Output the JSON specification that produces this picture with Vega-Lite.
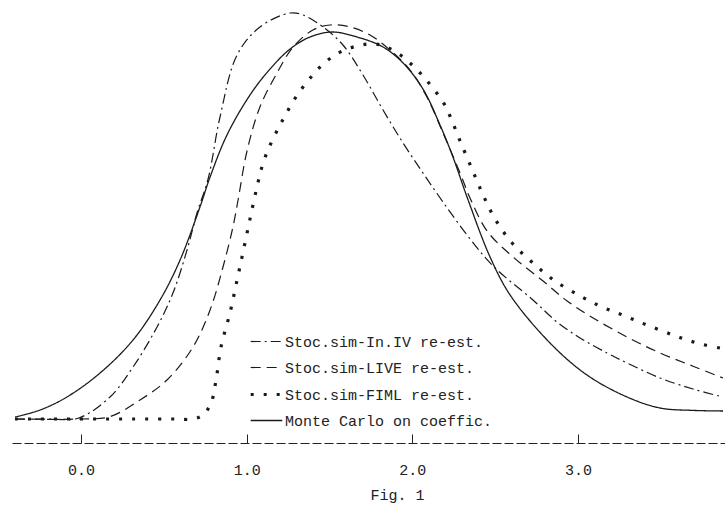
{
  "$schema": "https://vega.github.io/schema/vega-lite/v6.json",
  "autosize": {"type": "none"},
  "width": 713,
  "height": 443,
  "padding": {"left": 12, "top": 0, "right": 0, "bottom": 62},
  "background": "white",
  "config": {
    "view": {"stroke": null},
    "font": "Liberation Mono"
  },
  "data": {
    "values": [
      {"s": "Monte Carlo on coeffic.", "x": -0.398, "y": 0.005},
      {"s": "Monte Carlo on coeffic.", "x": -0.247, "y": 0.0225},
      {"s": "Monte Carlo on coeffic.", "x": -0.085, "y": 0.055},
      {"s": "Monte Carlo on coeffic.", "x": 0.115, "y": 0.115},
      {"s": "Monte Carlo on coeffic.", "x": 0.314, "y": 0.1975},
      {"s": "Monte Carlo on coeffic.", "x": 0.477, "y": 0.2975},
      {"s": "Monte Carlo on coeffic.", "x": 0.598, "y": 0.3975},
      {"s": "Monte Carlo on coeffic.", "x": 0.718, "y": 0.53},
      {"s": "Monte Carlo on coeffic.", "x": 0.779, "y": 0.605},
      {"s": "Monte Carlo on coeffic.", "x": 0.881, "y": 0.71},
      {"s": "Monte Carlo on coeffic.", "x": 1.02, "y": 0.81},
      {"s": "Monte Carlo on coeffic.", "x": 1.141, "y": 0.875},
      {"s": "Monte Carlo on coeffic.", "x": 1.262, "y": 0.925},
      {"s": "Monte Carlo on coeffic.", "x": 1.382, "y": 0.955},
      {"s": "Monte Carlo on coeffic.", "x": 1.515, "y": 0.9675},
      {"s": "Monte Carlo on coeffic.", "x": 1.666, "y": 0.955},
      {"s": "Monte Carlo on coeffic.", "x": 1.823, "y": 0.93},
      {"s": "Monte Carlo on coeffic.", "x": 1.944, "y": 0.89},
      {"s": "Monte Carlo on coeffic.", "x": 2.064, "y": 0.825},
      {"s": "Monte Carlo on coeffic.", "x": 2.167, "y": 0.735},
      {"s": "Monte Carlo on coeffic.", "x": 2.245, "y": 0.655},
      {"s": "Monte Carlo on coeffic.", "x": 2.33, "y": 0.555},
      {"s": "Monte Carlo on coeffic.", "x": 2.469, "y": 0.405},
      {"s": "Monte Carlo on coeffic.", "x": 2.59, "y": 0.31},
      {"s": "Monte Carlo on coeffic.", "x": 2.831, "y": 0.19},
      {"s": "Monte Carlo on coeffic.", "x": 3.054, "y": 0.11},
      {"s": "Monte Carlo on coeffic.", "x": 3.296, "y": 0.055},
      {"s": "Monte Carlo on coeffic.", "x": 3.495, "y": 0.0275},
      {"s": "Monte Carlo on coeffic.", "x": 3.694, "y": 0.0215},
      {"s": "Monte Carlo on coeffic.", "x": 3.875, "y": 0.02},

      {"s": "Stoc.sim-In.IV re-est.", "x": -0.398, "y": 0},
      {"s": "Stoc.sim-In.IV re-est.", "x": -0.2, "y": 0},
      {"s": "Stoc.sim-In.IV re-est.", "x": -0.018, "y": 0.002},
      {"s": "Stoc.sim-In.IV re-est.", "x": 0.175, "y": 0.055},
      {"s": "Stoc.sim-In.IV re-est.", "x": 0.314, "y": 0.13},
      {"s": "Stoc.sim-In.IV re-est.", "x": 0.459, "y": 0.23},
      {"s": "Stoc.sim-In.IV re-est.", "x": 0.555, "y": 0.315},
      {"s": "Stoc.sim-In.IV re-est.", "x": 0.64, "y": 0.4225},
      {"s": "Stoc.sim-In.IV re-est.", "x": 0.7, "y": 0.515},
      {"s": "Stoc.sim-In.IV re-est.", "x": 0.767, "y": 0.6},
      {"s": "Stoc.sim-In.IV re-est.", "x": 0.839, "y": 0.755},
      {"s": "Stoc.sim-In.IV re-est.", "x": 0.942, "y": 0.91},
      {"s": "Stoc.sim-In.IV re-est.", "x": 1.08, "y": 0.98},
      {"s": "Stoc.sim-In.IV re-est.", "x": 1.262, "y": 1.015},
      {"s": "Stoc.sim-In.IV re-est.", "x": 1.34, "y": 1.01},
      {"s": "Stoc.sim-In.IV re-est.", "x": 1.461, "y": 0.98},
      {"s": "Stoc.sim-In.IV re-est.", "x": 1.581, "y": 0.935},
      {"s": "Stoc.sim-In.IV re-est.", "x": 1.702, "y": 0.86},
      {"s": "Stoc.sim-In.IV re-est.", "x": 1.823, "y": 0.7725},
      {"s": "Stoc.sim-In.IV re-est.", "x": 1.944, "y": 0.69},
      {"s": "Stoc.sim-In.IV re-est.", "x": 2.064, "y": 0.615},
      {"s": "Stoc.sim-In.IV re-est.", "x": 2.185, "y": 0.5425},
      {"s": "Stoc.sim-In.IV re-est.", "x": 2.33, "y": 0.46},
      {"s": "Stoc.sim-In.IV re-est.", "x": 2.487, "y": 0.3825},
      {"s": "Stoc.sim-In.IV re-est.", "x": 2.728, "y": 0.2975},
      {"s": "Stoc.sim-In.IV re-est.", "x": 2.873, "y": 0.2425},
      {"s": "Stoc.sim-In.IV re-est.", "x": 3.012, "y": 0.2025},
      {"s": "Stoc.sim-In.IV re-est.", "x": 3.175, "y": 0.165},
      {"s": "Stoc.sim-In.IV re-est.", "x": 3.296, "y": 0.14},
      {"s": "Stoc.sim-In.IV re-est.", "x": 3.495, "y": 0.1025},
      {"s": "Stoc.sim-In.IV re-est.", "x": 3.694, "y": 0.075},
      {"s": "Stoc.sim-In.IV re-est.", "x": 3.875, "y": 0.055},

      {"s": "Stoc.sim-LIVE re-est.", "x": -0.398, "y": 0},
      {"s": "Stoc.sim-LIVE re-est.", "x": 0.0, "y": 0},
      {"s": "Stoc.sim-LIVE re-est.", "x": 0.175, "y": 0.006},
      {"s": "Stoc.sim-LIVE re-est.", "x": 0.356, "y": 0.0475},
      {"s": "Stoc.sim-LIVE re-est.", "x": 0.519, "y": 0.0975},
      {"s": "Stoc.sim-LIVE re-est.", "x": 0.676, "y": 0.18},
      {"s": "Stoc.sim-LIVE re-est.", "x": 0.779, "y": 0.2725},
      {"s": "Stoc.sim-LIVE re-est.", "x": 0.857, "y": 0.38},
      {"s": "Stoc.sim-LIVE re-est.", "x": 0.917, "y": 0.48},
      {"s": "Stoc.sim-LIVE re-est.", "x": 0.948, "y": 0.5475},
      {"s": "Stoc.sim-LIVE re-est.", "x": 1.002, "y": 0.67},
      {"s": "Stoc.sim-LIVE re-est.", "x": 1.08, "y": 0.78},
      {"s": "Stoc.sim-LIVE re-est.", "x": 1.183, "y": 0.865},
      {"s": "Stoc.sim-LIVE re-est.", "x": 1.28, "y": 0.93},
      {"s": "Stoc.sim-LIVE re-est.", "x": 1.4, "y": 0.9725},
      {"s": "Stoc.sim-LIVE re-est.", "x": 1.503, "y": 0.985},
      {"s": "Stoc.sim-LIVE re-est.", "x": 1.624, "y": 0.98},
      {"s": "Stoc.sim-LIVE re-est.", "x": 1.744, "y": 0.96},
      {"s": "Stoc.sim-LIVE re-est.", "x": 1.865, "y": 0.9225},
      {"s": "Stoc.sim-LIVE re-est.", "x": 1.986, "y": 0.8725},
      {"s": "Stoc.sim-LIVE re-est.", "x": 2.088, "y": 0.805},
      {"s": "Stoc.sim-LIVE re-est.", "x": 2.185, "y": 0.715},
      {"s": "Stoc.sim-LIVE re-est.", "x": 2.288, "y": 0.615},
      {"s": "Stoc.sim-LIVE re-est.", "x": 2.348, "y": 0.5525},
      {"s": "Stoc.sim-LIVE re-est.", "x": 2.451, "y": 0.47},
      {"s": "Stoc.sim-LIVE re-est.", "x": 2.608, "y": 0.405},
      {"s": "Stoc.sim-LIVE re-est.", "x": 2.789, "y": 0.345},
      {"s": "Stoc.sim-LIVE re-est.", "x": 2.934, "y": 0.295},
      {"s": "Stoc.sim-LIVE re-est.", "x": 3.091, "y": 0.2525},
      {"s": "Stoc.sim-LIVE re-est.", "x": 3.296, "y": 0.205},
      {"s": "Stoc.sim-LIVE re-est.", "x": 3.495, "y": 0.165},
      {"s": "Stoc.sim-LIVE re-est.", "x": 3.694, "y": 0.132},
      {"s": "Stoc.sim-LIVE re-est.", "x": 3.875, "y": 0.1025},

      {"s": "Stoc.sim-FIML re-est.", "x": -0.398, "y": 0},
      {"s": "Stoc.sim-FIML re-est.", "x": 0.55, "y": 0},
      {"s": "Stoc.sim-FIML re-est.", "x": 0.676, "y": 0},
      {"s": "Stoc.sim-FIML re-est.", "x": 0.736, "y": 0.01},
      {"s": "Stoc.sim-FIML re-est.", "x": 0.785, "y": 0.04},
      {"s": "Stoc.sim-FIML re-est.", "x": 0.815, "y": 0.0975},
      {"s": "Stoc.sim-FIML re-est.", "x": 0.845, "y": 0.18},
      {"s": "Stoc.sim-FIML re-est.", "x": 0.899, "y": 0.265},
      {"s": "Stoc.sim-FIML re-est.", "x": 0.942, "y": 0.3475},
      {"s": "Stoc.sim-FIML re-est.", "x": 0.977, "y": 0.415},
      {"s": "Stoc.sim-FIML re-est.", "x": 1.02, "y": 0.5},
      {"s": "Stoc.sim-FIML re-est.", "x": 1.062, "y": 0.58},
      {"s": "Stoc.sim-FIML re-est.", "x": 1.099, "y": 0.64},
      {"s": "Stoc.sim-FIML re-est.", "x": 1.147, "y": 0.69},
      {"s": "Stoc.sim-FIML re-est.", "x": 1.195, "y": 0.73},
      {"s": "Stoc.sim-FIML re-est.", "x": 1.237, "y": 0.7625},
      {"s": "Stoc.sim-FIML re-est.", "x": 1.286, "y": 0.7975},
      {"s": "Stoc.sim-FIML re-est.", "x": 1.34, "y": 0.83},
      {"s": "Stoc.sim-FIML re-est.", "x": 1.394, "y": 0.8575},
      {"s": "Stoc.sim-FIML re-est.", "x": 1.449, "y": 0.8825},
      {"s": "Stoc.sim-FIML re-est.", "x": 1.515, "y": 0.905},
      {"s": "Stoc.sim-FIML re-est.", "x": 1.587, "y": 0.922},
      {"s": "Stoc.sim-FIML re-est.", "x": 1.666, "y": 0.9325},
      {"s": "Stoc.sim-FIML re-est.", "x": 1.738, "y": 0.9375},
      {"s": "Stoc.sim-FIML re-est.", "x": 1.805, "y": 0.9355},
      {"s": "Stoc.sim-FIML re-est.", "x": 1.859, "y": 0.927},
      {"s": "Stoc.sim-FIML re-est.", "x": 1.926, "y": 0.9105},
      {"s": "Stoc.sim-FIML re-est.", "x": 1.992, "y": 0.8875},
      {"s": "Stoc.sim-FIML re-est.", "x": 2.058, "y": 0.86},
      {"s": "Stoc.sim-FIML re-est.", "x": 2.119, "y": 0.83},
      {"s": "Stoc.sim-FIML re-est.", "x": 2.185, "y": 0.7925},
      {"s": "Stoc.sim-FIML re-est.", "x": 2.227, "y": 0.7575},
      {"s": "Stoc.sim-FIML re-est.", "x": 2.288, "y": 0.695},
      {"s": "Stoc.sim-FIML re-est.", "x": 2.36, "y": 0.625},
      {"s": "Stoc.sim-FIML re-est.", "x": 2.427, "y": 0.56},
      {"s": "Stoc.sim-FIML re-est.", "x": 2.499, "y": 0.5},
      {"s": "Stoc.sim-FIML re-est.", "x": 2.602, "y": 0.44},
      {"s": "Stoc.sim-FIML re-est.", "x": 2.728, "y": 0.39},
      {"s": "Stoc.sim-FIML re-est.", "x": 2.861, "y": 0.345},
      {"s": "Stoc.sim-FIML re-est.", "x": 3.024, "y": 0.305},
      {"s": "Stoc.sim-FIML re-est.", "x": 3.145, "y": 0.28},
      {"s": "Stoc.sim-FIML re-est.", "x": 3.253, "y": 0.2625},
      {"s": "Stoc.sim-FIML re-est.", "x": 3.356, "y": 0.245},
      {"s": "Stoc.sim-FIML re-est.", "x": 3.459, "y": 0.228},
      {"s": "Stoc.sim-FIML re-est.", "x": 3.573, "y": 0.21},
      {"s": "Stoc.sim-FIML re-est.", "x": 3.658, "y": 0.1975},
      {"s": "Stoc.sim-FIML re-est.", "x": 3.755, "y": 0.186},
      {"s": "Stoc.sim-FIML re-est.", "x": 3.857, "y": 0.1775}
    ]
  },
  "mark": {"type": "line", "interpolate": "catmull-rom", "color": "#1a1a1a"},
  "encoding": {
    "x": {
      "field": "x",
      "type": "quantitative",
      "scale": {"domain": [-0.4165, 3.887], "nice": false, "zero": false},
      "axis": {
        "values": [0, 1, 2, 3],
        "format": ".1f",
        "grid": false,
        "domainColor": "#222222",
        "domainDash": [9, 3],
        "domainWidth": 1,
        "tickColor": "#222222",
        "tickSize": -9,
        "tickWidth": 1,
        "labelFont": "Liberation Mono",
        "labelFontSize": 15,
        "labelColor": "#222222",
        "labelPadding": 28,
        "title": "Fig. 1",
        "titleFont": "Liberation Mono",
        "titleFontSize": 15,
        "titleFontWeight": "normal",
        "titleColor": "#222222",
        "titlePadding": 10,
        "titleX": 385
      }
    },
    "y": {
      "field": "y",
      "type": "quantitative",
      "scale": {"domain": [-0.06, 1.0475], "nice": false, "zero": false},
      "axis": null
    },
    "strokeDash": {
      "field": "s",
      "type": "nominal",
      "scale": {
        "domain": ["Stoc.sim-In.IV re-est.", "Stoc.sim-LIVE re-est.", "Stoc.sim-FIML re-est.", "Monte Carlo on coeffic."],
        "range": [[10, 4, 2, 4], [10, 6], [3, 10], [1, 0]]
      },
      "legend": {
        "title": null,
        "orient": "none",
        "legendX": 237,
        "legendY": 325,
        "padding": 0,
        "symbolType": "stroke",
        "symbolSize": 1000,
        "symbolStrokeColor": "#1a1a1a",
        "labelFont": "Liberation Mono",
        "labelFontSize": 15,
        "labelColor": "#222222",
        "labelOffset": 1,
        "labelLimit": 400,
        "rowPadding": 1
      }
    },
    "strokeWidth": {
      "field": "s",
      "type": "nominal",
      "scale": {
        "type": "ordinal",
        "domain": ["Stoc.sim-In.IV re-est.", "Stoc.sim-LIVE re-est.", "Stoc.sim-FIML re-est.", "Monte Carlo on coeffic."],
        "range": [1.2, 1.2, 3.2, 1.3]
      },
      "legend": null
    }
  }
}
